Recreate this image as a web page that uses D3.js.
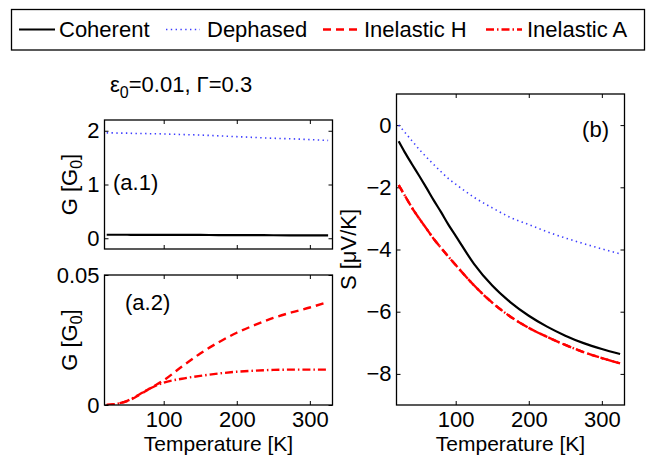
<!DOCTYPE html>
<html>
<head>
<meta charset="utf-8">
<script src="https://cdn.jsdelivr.net/npm/d3@7"></script>
<style>
  body { margin: 0; background: #fff; }
  svg { display: block; font-family: "Liberation Sans", Arial, sans-serif; }
  .tick text { font-size: 22px; fill: #000; }
  .tick line { stroke: #000; stroke-width: 1; }
</style>
</head>
<body>
<svg id="chart" width="651" height="455"></svg>
<script>
// Temperature grid shared by every curve [K]
const temperature = [22, 30, 40, 50, 60, 70, 80, 90, 100, 125, 150, 175, 200, 225, 250, 275, 300, 325];

// Panel (a.1): conductance G [G0]
const gCoherent = [0.065, 0.065, 0.065, 0.065, 0.064, 0.064, 0.064, 0.063, 0.063, 0.062, 0.061, 0.060, 0.058, 0.057, 0.056, 0.054, 0.053, 0.052];
const gDephased = [1.96, 1.96, 1.955, 1.955, 1.95, 1.95, 1.945, 1.945, 1.94, 1.93, 1.92, 1.905, 1.89, 1.875, 1.86, 1.85, 1.835, 1.82];

// Panel (a.2): inelastic conductance G [G0]
const gInelH = [0, 0.0002, 0.0007, 0.0015, 0.0028, 0.0044, 0.0062, 0.0078, 0.0095, 0.0148, 0.0198, 0.0241, 0.0278, 0.0308, 0.0335, 0.0356, 0.0375, 0.0396];
const gInelA = [0, 0.0002, 0.0007, 0.0016, 0.0030, 0.0046, 0.0062, 0.0075, 0.0086, 0.0101, 0.0112, 0.0121, 0.0128, 0.0132, 0.0135, 0.0136, 0.0136, 0.0136];

// Panel (b): thermopower S [uV/K]
const sCoherent = [-0.52, -0.86, -1.25, -1.63, -2.02, -2.42, -2.8, -3.2, -3.56, -4.46, -5.16, -5.70, -6.13, -6.48, -6.77, -7.01, -7.20, -7.36];
const sDephased = [0, -0.22, -0.5, -0.78, -1.03, -1.27, -1.5, -1.72, -1.9, -2.32, -2.66, -2.97, -3.2, -3.43, -3.63, -3.81, -3.98, -4.14];
const sInelH = [-1.93, -2.25, -2.65, -3.0, -3.33, -3.66, -3.95, -4.23, -4.5, -5.15, -5.71, -6.16, -6.52, -6.81, -7.07, -7.30, -7.49, -7.66];
const sInelA = [-1.93, -2.25, -2.65, -3.0, -3.33, -3.66, -3.95, -4.23, -4.5, -5.15, -5.71, -6.16, -6.52, -6.81, -7.07, -7.30, -7.49, -7.66];

const xTicks = [100, 200, 300];
const legendNames = ["Coherent", "Dephased", "Inelastic H", "Inelastic A"];

// line styles per series
const styles = {
    "Coherent":    { color: "#000000", width: 2.2, dash: null },
    "Dephased":    { color: "#3c3cff", width: 1.6, dash: "1.4,3.4" },
    "Inelastic H": { color: "#ff0000", width: 2.4, dash: "8,5" },
    "Inelastic A": { color: "#ff0000", width: 2.4, dash: "8,3,1.5,3" }
};

const svg = d3.select("#chart");

/**
 * Draw one boxed MATLAB-style panel with inward ticks on all four sides
 */
function drawPanel(box, yDomain, yTicks, yFormat, showX, series) {
    const x = d3.scaleLinear().domain([19, 331]).range([0, box.w]);
    const y = d3.scaleLinear().domain(yDomain).range([box.h, 0]);
    const g = svg.append("g").attr("transform", `translate(${box.x},${box.y})`);

    g.append("g")
        .call(d3.axisLeft(y).tickValues(yTicks).tickFormat(yFormat)
            .tickSizeInner(-4).tickSizeOuter(0).tickPadding(5))
        .call(a => a.select(".domain").remove());
    g.append("g")
        .attr("transform", `translate(${box.w},0)`)
        .call(d3.axisRight(y).tickValues(yTicks).tickFormat("")
            .tickSizeInner(-4).tickSizeOuter(0))
        .call(a => a.select(".domain").remove());
    g.append("g")
        .attr("transform", `translate(0,${box.h})`)
        .call(d3.axisBottom(x).tickValues(xTicks).tickFormat(showX ? d3.format("d") : "")
            .tickSizeInner(-4).tickSizeOuter(0).tickPadding(6))
        .call(a => a.select(".domain").remove());
    g.append("g")
        .call(d3.axisTop(x).tickValues(xTicks).tickFormat("")
            .tickSizeInner(-4).tickSizeOuter(0))
        .call(a => a.select(".domain").remove());

    const clipId = "clip" + Math.round(box.x) + "_" + Math.round(box.y);
    g.append("clipPath").attr("id", clipId)
        .append("rect").attr("width", box.w).attr("height", box.h);

    const line = d3.line()
        .x(d => x(d[0]))
        .y(d => y(d[1]))
        .curve(d3.curveMonotoneX);

    series.forEach(s => {
        const st = styles[s.name];
        g.append("path")
            .datum(temperature.map((t, i) => [t, s.values[i]]))
            .attr("clip-path", `url(#${clipId})`)
            .attr("fill", "none")
            .attr("stroke", st.color)
            .attr("stroke-width", st.width)
            .attr("stroke-dasharray", st.dash)
            .attr("d", line);
    });

    g.append("rect")
        .attr("width", box.w).attr("height", box.h)
        .attr("fill", "none").attr("stroke", "#000").attr("stroke-width", 1.3);

    return g;
}

// rotated y label with a subscript inside brackets
function yLabel(cx, cy, parts) {
    const t = svg.append("text")
        .attr("transform", `translate(${cx},${cy}) rotate(-90)`)
        .attr("text-anchor", "middle")
        .attr("font-size", 22);
    parts.forEach(p => {
        const ts = t.append("tspan").text(p.text);
        if (p.sub) ts.attr("font-size", 16).attr("dy", 5);
        if (p.up) ts.attr("dy", -5);
    });
}

const boxA1 = { x: 104.5, y: 120, w: 228, h: 129 };
const boxA2 = { x: 104.5, y: 275, w: 228, h: 130 };
const boxB  = { x: 396.5, y: 94,  w: 228, h: 311 };

drawPanel(boxA1, [-0.2, 2.2], [0, 1, 2], d3.format("d"), false, [
    { name: "Coherent", values: gCoherent },
    { name: "Dephased", values: gDephased }
]);
drawPanel(boxA2, [0, 0.05], [0, 0.05], d => d === 0 ? "0" : d3.format(".2f")(d), true, [
    { name: "Inelastic H", values: gInelH },
    { name: "Inelastic A", values: gInelA }
]);
drawPanel(boxB, [-9, 1], [-8, -6, -4, -2, 0], d3.format("d"), true, [
    { name: "Dephased", values: sDephased },
    { name: "Inelastic H", values: sInelH },
    { name: "Inelastic A", values: sInelA },
    { name: "Coherent", values: sCoherent }
]);

// panel tags
svg.append("text").attr("x", 113).attr("y", 190).attr("font-size", 22).text("(a.1)");
svg.append("text").attr("x", 125).attr("y", 310).attr("font-size", 22).text("(a.2)");
svg.append("text").attr("x", 609).attr("y", 137).attr("font-size", 22)
    .attr("text-anchor", "end").text("(b)");

// parameter title
const title = svg.append("text").attr("x", 110).attr("y", 92).attr("font-size", 22);
title.append("tspan").text("ε");
title.append("tspan").attr("font-size", 16).attr("dy", 6).text("0");
title.append("tspan").attr("dy", -6).text("=0.01, Γ=0.3");

// axis labels
yLabel(77, 184.5, [{ text: "G [G" }, { text: "0", sub: true }, { text: "]", up: true }]);
yLabel(77, 340, [{ text: "G [G" }, { text: "0", sub: true }, { text: "]", up: true }]);
yLabel(356, 249.5, [{ text: "S [μV/K]" }]);

svg.append("text").attr("x", boxA2.x + boxA2.w / 2).attr("y", 450.5)
    .attr("text-anchor", "middle").attr("font-size", 21).text("Temperature [K]");
svg.append("text").attr("x", boxB.x + boxB.w / 2).attr("y", 450.5)
    .attr("text-anchor", "middle").attr("font-size", 21).text("Temperature [K]");

// legend
svg.append("rect").attr("x", 11.5).attr("y", 9.5).attr("width", 633).attr("height", 40.5)
    .attr("fill", "#fff").attr("stroke", "#000").attr("stroke-width", 1.3);
const legendX = [[19, 55, 59], [166, 200, 207], [323, 360, 364], [486, 522, 527]];
legendNames.forEach((name, i) => {
    const st = styles[name];
    const [x1, x2, tx] = legendX[i];
    svg.append("line")
        .attr("x1", x1).attr("x2", x2).attr("y1", 29.5).attr("y2", 29.5)
        .attr("stroke", st.color).attr("stroke-width", st.width)
        .attr("stroke-dasharray", st.dash);
    svg.append("text").attr("x", tx).attr("y", 37).attr("font-size", 22).text(name);
});
</script>
</body>
</html>
